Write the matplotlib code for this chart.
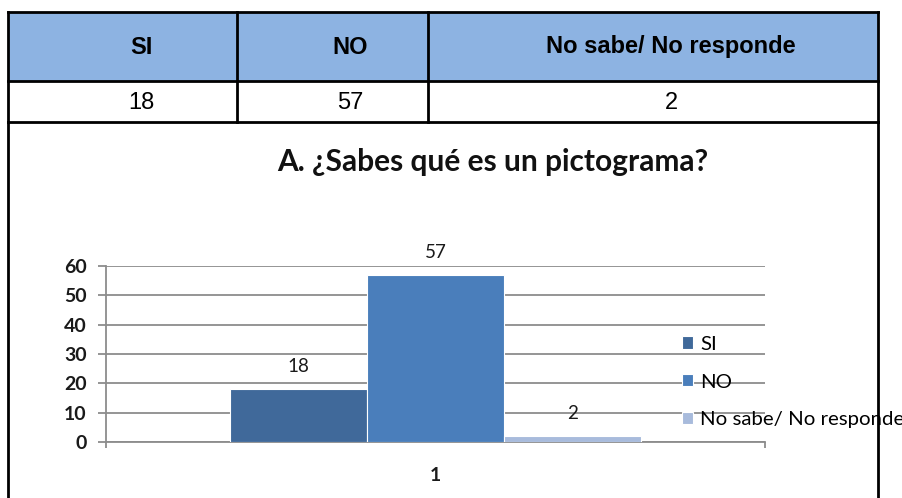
import matplotlib.pyplot as plt
from matplotlib.patches import Rectangle
from matplotlib.lines import Line2D

# Survey answers
categories = ['SI', 'NO', 'No sabe/ No responde']
counts = [18, 57, 2]
group_label = '1'
title = 'A. ¿Sabes qué es un pictograma?'

colors = ['#40699A', '#4A7EBB', '#A8BBDC']
header_fill = '#8DB3E2'
grid_gray = '#8C8C8C'

W, H = 903, 498
fig = plt.figure(figsize=(W / 100, H / 100), dpi=100)


def fx(px):
    return px / W


def fy(py):
    return 1 - py / H


# ---- table on top (pixel layout) ----
left, right = 8, 878
top, mid, bottom = 12, 81, 122
col_edges = [left, 237, 428, right]
text_x = [141, 350, 671]

fig.patches.append(Rectangle((fx(left), fy(mid)), fx(right) - fx(left), fy(top) - fy(mid),
                             transform=fig.transFigure, facecolor=header_fill,
                             edgecolor='none', zorder=0))
lw = 2.0
for yy in (top, mid, bottom):
    fig.add_artist(Line2D([fx(left), fx(right)], [fy(yy), fy(yy)], color='black', lw=lw))
for xx in col_edges:
    fig.add_artist(Line2D([fx(xx), fx(xx)], [fy(top), fy(bottom)], color='black', lw=lw))
# chart frame below the table
for xx in (left, right):
    fig.add_artist(Line2D([fx(xx), fx(xx)], [fy(bottom), 0], color='black', lw=lw))

for cx, cat, val in zip(text_x, categories, counts):
    fig.text(fx(cx), fy(47), cat, ha='center', va='center', fontsize=17,
             fontweight='bold', family='Liberation Sans')
    fig.text(fx(cx), fy(103), str(val), ha='center', va='center', fontsize=17,
             family='Liberation Sans')

# ---- chart ----
ax = fig.add_axes([fx(106), fy(442), fx(765) - fx(106), fy(266) - fy(442)])
w = 0.625 / 3
for i, (cat, val, c) in enumerate(zip(categories, counts, colors)):
    ax.bar(1 + (i - 1) * w, val, width=w, color=c, edgecolor='white', linewidth=0.8,
           label=cat, zorder=3)
    ax.annotate(str(val), (1 + (i - 1) * w, val), xytext=(0, 16), textcoords='offset points',
                ha='center', va='center', fontsize=13.5, family='Lato', color='#1a1a1a')

ax.set_xlim(0.5, 1.5)
ax.set_ylim(0, 60)
ax.set_yticks(range(0, 61, 10))
ax.grid(axis='y', color=grid_gray, lw=1.3, zorder=0)
ax.set_axisbelow(True)
for s in ('top', 'right'):
    ax.spines[s].set_visible(False)
for s in ('left', 'bottom'):
    ax.spines[s].set_color(grid_gray)
    ax.spines[s].set_linewidth(1.3)

ax.set_xticks([0.5, 1.5])
ax.set_xticklabels(['', ''])
ax.set_xticks([1], [group_label], minor=True)
ax.tick_params(axis='x', which='major', length=4.5, color=grid_gray, width=1.3)
ax.tick_params(axis='x', which='minor', length=0, pad=18, labelsize=14, labelcolor='#1a1a1a')
ax.tick_params(axis='y', length=5.8, color=grid_gray, width=1.3, pad=8, labelsize=14,
               labelcolor='#1a1a1a')
for lab in ax.get_yticklabels() + ax.get_xticklabels(minor=True):
    lab.set_family('Lato')
    lab.set_fontweight('bold')

fig.text(fx(493), fy(162), title, ha='center', va='center', fontsize=21.5,
         fontweight='bold', family='Lato', color='#111111')

leg = ax.legend(loc='center left', bbox_to_anchor=(fx(682), fy(382)),
                bbox_transform=fig.transFigure, frameon=False,
                handlelength=0.55, handleheight=0.55, handletextpad=0.35,
                labelspacing=1.02, borderaxespad=0, borderpad=0,
                prop={'family': 'Lato', 'size': 14.7})
leg.set_zorder(5)

fig.savefig('out.png', dpi=100)
